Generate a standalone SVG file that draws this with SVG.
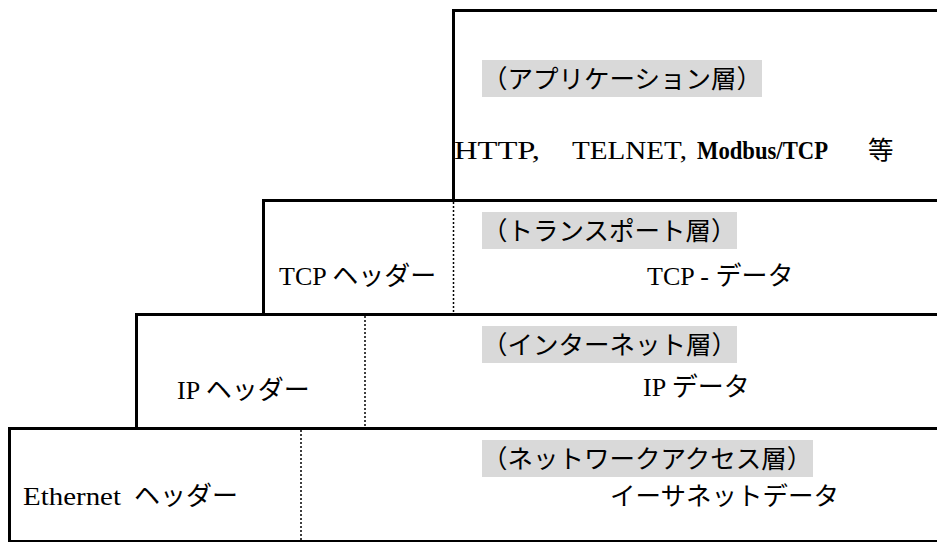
<svg xmlns="http://www.w3.org/2000/svg" width="937" height="542" viewBox="0 0 937 542">
<style>
.solid{stroke:#000;stroke-width:3;fill:none;stroke-linecap:square}
.dot{stroke:#000;stroke-width:1.5;fill:none;stroke-dasharray:2 2}
.lbl{fill:#d9d9d9}
.t{font-family:"Liberation Serif","Noto Sans CJK JP",serif;font-size:26px;fill:#000}
.j{font-family:"Noto Sans CJK JP","Liberation Sans",sans-serif;font-size:25.5px;fill:#000}
.b{font-weight:bold}
</style>
<rect width="937" height="542" fill="#fff"/>
<g id="application-layer">
  <path class="solid" d="M453.5 200.5 V10.5 H937"/>
  <rect class="lbl" x="482" y="60" width="280" height="37"/>
  <text class="j" x="482" y="88">（アプリケーション層）</text>
  <text class="t" y="159" font-size="32"><tspan x="454" textLength="86" lengthAdjust="spacingAndGlyphs">HTTP,</tspan><tspan x="572" textLength="115" lengthAdjust="spacingAndGlyphs">TELNET,</tspan><tspan class="b" x="697" textLength="131" lengthAdjust="spacingAndGlyphs">Modbus/TCP</tspan></text>
  <text class="j" x="868" y="159" font-size="26">等</text>
</g>
<g id="transport-layer">
  <path class="solid" d="M263.5 314.5 V200.5 H937"/>
  <path class="dot" d="M453.5 202 V314"/>
  <rect class="lbl" x="482" y="212" width="255" height="37"/>
  <text class="j" x="482" y="240">（トランスポート層）</text>
  <text class="t" x="279" y="285">TCP ヘッダー</text>
  <text class="t" x="647" y="285">TCP - データ</text>
</g>
<g id="internet-layer">
  <path class="solid" d="M136.5 428.5 V314.5 H937"/>
  <path class="dot" d="M365 316 V428"/>
  <rect class="lbl" x="482" y="326" width="255" height="37"/>
  <text class="j" x="482" y="354">（インターネット層）</text>
  <text class="t" x="177" y="399">IP ヘッダー</text>
  <text class="t" x="643" y="396">IP データ</text>
</g>
<g id="network-access-layer">
  <path class="solid" d="M9.5 542 V428.5 H937"/>
  <path d="M9 541 H937" stroke="#000" stroke-width="2"/>
  <path class="dot" d="M301 430 V540"/>
  <rect class="lbl" x="482" y="440" width="331" height="37"/>
  <text class="j" x="482" y="468">（ネットワークアクセス層）</text>
  <text class="t" y="505"><tspan x="23" textLength="98" lengthAdjust="spacingAndGlyphs">Ethernet</tspan><tspan x="134">ヘッダー</tspan></text>
  <text class="j" x="610" y="505">イーサネットデータ</text>
</g>
<g id="connectors"></g>
</svg>
